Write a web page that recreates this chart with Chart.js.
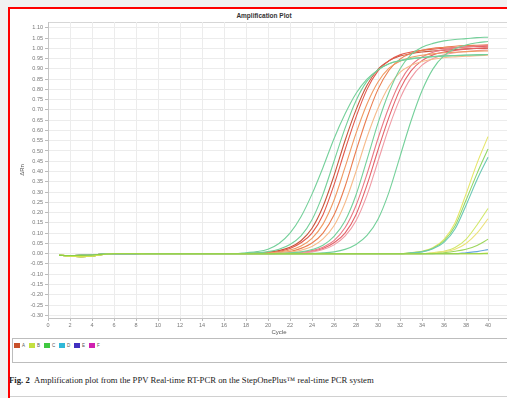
<!DOCTYPE html>
<html>
<head>
<meta charset="utf-8">
<script src="https://cdn.jsdelivr.net/npm/chart.js@4.4.1/dist/chart.umd.min.js"></script>
<style>
  html, body { margin: 0; padding: 0; }
  body { width: 507px; height: 398px; background: #f1f1f1; overflow: hidden; position: relative; font-family: "Liberation Sans", Arial, sans-serif; }
  #frame { position: absolute; left: 8px; top: 7px; width: 520px; height: 420px; border: 2px solid #f00; background: #fff; }
  #topline { position: absolute; left: 48px; top: 22px; width: 470px; height: 1px; background: #d6d6d6; }
  #title { position: absolute; left: 204px; top: 12px; width: 120px; text-align: center; font-size: 6.5px; font-weight: bold; color: #333; }
  #wrap { position: absolute; left: 0; top: 0; width: 520px; height: 336px; }
  #legend { position: absolute; left: 12px; top: 338px; width: 520px; height: 23px; border: 1px solid #bdbdbd; background: #fff; }
  .item { position: absolute; top: 4px; font-size: 4.5px; color: #555; line-height: 6px; }
  .item span { display: inline-block; width: 6px; height: 5px; vertical-align: middle; margin-right: 2px; }
  #caption { position: absolute; left: 9px; top: 375px; font-family: "Liberation Serif", "Times New Roman", serif; font-size: 8.7px; color: #222; white-space: nowrap; }
  #rule { position: absolute; left: 10px; top: 396px; width: 510px; height: 1px; background: #d0d0d0; }
</style>
</head>
<body>
<div id="frame"></div>
<div id="topline"></div>
<div id="title">Amplification Plot</div>
<div id="wrap"><canvas id="myChart"></canvas></div>
<div id="legend"></div>
<div id="caption"><b>Fig. 2</b>&nbsp;&nbsp;Amplification plot from the PPV Real-time RT-PCR on the StepOnePlus™ real-time PCR system</div>
<div id="rule"></div>
<script>
const cycles = [1, 2, 3, 4, 5, 6, 7, 8, 9, 10, 11, 12, 13, 14, 15, 16, 17, 18, 19, 20,
    21, 22, 23, 24, 25, 26, 27, 28, 29, 30, 31, 32, 33, 34, 35, 36, 37, 38, 39, 40];
const xTickValues = [0, 2, 4, 6, 8, 10, 12, 14, 16, 18, 20, 22, 24, 26, 28, 30, 32, 34, 36, 38, 40];
const yTickValues = [-0.30, -0.25, -0.20, -0.15, -0.10, -0.05, 0.00, 0.05, 0.10, 0.15, 0.20, 0.25, 0.30,
    0.35, 0.40, 0.45, 0.50, 0.55, 0.60, 0.65, 0.70, 0.75, 0.80, 0.85, 0.90, 0.95, 1.00, 1.05, 1.10];

// cycles 1-17, before any curve leaves the baseline
const baseA = [-0.008, -0.009, -0.008, -0.006, -0.002, 0, 0, 0, 0, 0, 0, 0, 0, 0, 0, 0, 0];
const baseB = [-0.006, -0.012, -0.014, -0.012, -0.004, 0.001, 0.001, 0.001, 0, 0, 0, 0, 0, 0, 0, 0, 0];

// cycles 18-40
const lateFlat1 = [0, 0, 0, 0, 0, 0, 0, 0, 0, 0, 0, 0, 0, 0, 0, 0, 0, 0, 0, 0, 0, 0, 0];
const lateFlat2 = [0, 0, 0, 0, 0, 0, 0, 0, 0, 0, 0, 0, 0, 0, 0, 0, 0, 0, 0, 0, 0, 0, 0.003];
const late7 = [0, 0, 0, 0, 0, 0, 0, 0, 0, 0, 0, 0, 0, 0, 0, 0, 0, 0, 0, 0, 0.005, 0.01, 0.02];
const late6 = [0, 0, 0, 0, 0, 0, 0, 0, 0, 0, 0, 0, 0, 0, 0, 0, 0, 0, 0.005, 0.012, 0.022, 0.04, 0.07];
const late5 = [0, 0, 0, 0, 0, 0, 0, 0, 0, 0, 0, 0, 0, 0, 0, 0, 0, 0.004, 0.01, 0.022, 0.05, 0.10, 0.17];
const late4 = [0, 0, 0, 0, 0, 0, 0, 0, 0, 0, 0, 0, 0, 0, 0, 0, 0, 0.005, 0.012, 0.03, 0.07, 0.14, 0.22];
const late3 = [0, 0, 0, 0, 0, 0, 0, 0, 0, 0, 0, 0, 0, 0, 0, 0.004, 0.009, 0.024, 0.055, 0.12, 0.235, 0.36, 0.47];
const late2 = [0, 0, 0, 0, 0, 0, 0, 0, 0, 0, 0, 0, 0, 0, 0, 0.004, 0.01, 0.027, 0.062, 0.135, 0.26, 0.39, 0.51];
const late1 = [0, 0, 0, 0, 0, 0, 0, 0, 0, 0, 0, 0, 0, 0, 0, 0.005, 0.012, 0.03, 0.07, 0.15, 0.29, 0.44, 0.57];

const green1 = [0.005, 0.01, 0.022, 0.05, 0.10, 0.18, 0.29, 0.42, 0.56, 0.68, 0.78, 0.85, 0.895, 0.925, 0.94, 0.95, 0.955, 0.96, 0.963, 0.965, 0.967, 0.968, 0.97];
const green2 = [0.002, 0.004, 0.010, 0.022, 0.045, 0.087, 0.165, 0.29, 0.45, 0.61, 0.745, 0.84, 0.895, 0.925, 0.94, 0.948, 0.955, 0.959, 0.962, 0.964, 0.966, 0.968, 0.97];
const green3 = [0, 0, 0, 0.002, 0.004, 0.009, 0.020, 0.041, 0.084, 0.159, 0.286, 0.458, 0.636, 0.786, 0.899, 0.969, 1.005, 1.024, 1.036, 1.043, 1.047, 1.052, 1.054];
const green4 = [0, 0, 0, 0, 0, 0, 0.002, 0.004, 0.009, 0.021, 0.045, 0.089, 0.168, 0.30, 0.473, 0.646, 0.793, 0.90, 0.964, 0.998, 1.016, 1.027, 1.033];
const red1 = [0.001, 0.003, 0.007, 0.015, 0.031, 0.063, 0.124, 0.23, 0.38, 0.55, 0.70, 0.82, 0.898, 0.939, 0.962, 0.974, 0.982, 0.987, 0.991, 0.994, 0.997, 0.999, 1.00];
const red2 = [0.001, 0.002, 0.005, 0.011, 0.025, 0.053, 0.10, 0.19, 0.335, 0.505, 0.665, 0.80, 0.89, 0.94, 0.968, 0.982, 0.99, 0.996, 1.0, 1.003, 1.006, 1.008, 1.01];
const red3 = [0, 0, 0, 0.001, 0.002, 0.005, 0.011, 0.025, 0.053, 0.10, 0.19, 0.335, 0.505, 0.665, 0.80, 0.89, 0.94, 0.968, 0.982, 0.99, 0.996, 1.0, 1.003];
const orange1 = [0, 0.001, 0.004, 0.008, 0.018, 0.038, 0.075, 0.144, 0.26, 0.42, 0.586, 0.729, 0.836, 0.903, 0.937, 0.956, 0.966, 0.973, 0.978, 0.981, 0.984, 0.986, 0.987];
const orange2 = [0, 0.001, 0.002, 0.005, 0.011, 0.026, 0.052, 0.10, 0.188, 0.326, 0.50, 0.663, 0.80, 0.893, 0.947, 0.976, 0.99, 1.0, 1.005, 1.01, 1.013, 1.015, 1.017];
const orange3 = [0, 0, 0.001, 0.003, 0.008, 0.017, 0.035, 0.072, 0.136, 0.247, 0.40, 0.567, 0.708, 0.815, 0.883, 0.917, 0.936, 0.947, 0.954, 0.958, 0.961, 0.964, 0.966];
const pink1 = [0, 0, 0, 0.001, 0.003, 0.007, 0.015, 0.032, 0.064, 0.126, 0.235, 0.388, 0.561, 0.714, 0.836, 0.916, 0.958, 0.981, 0.993, 1.002, 1.007, 1.011, 1.014];
const pink2 = [0, 0, 0, 0.001, 0.002, 0.004, 0.009, 0.020, 0.043, 0.085, 0.16, 0.285, 0.45, 0.615, 0.755, 0.856, 0.918, 0.95, 0.968, 0.978, 0.984, 0.989, 0.992];

// drawing order: late wells first, reds last so they sit on top of the baseline
const wells = [
    ['lateFlat1', lateFlat1, baseA, '#8ccf46'],
    ['lateFlat2', lateFlat2, baseB, '#d6e44e'],
    ['late7', late7, baseA, '#6aa8dc'],
    ['late6', late6, baseB, '#9cd65a'],
    ['late5', late5, baseB, '#ece27a'],
    ['late4', late4, baseA, '#d2e86a'],
    ['late3', late3, baseA, '#6cc8b4'],
    ['late2', late2, baseB, '#90d868'],
    ['late1', late1, baseB, '#e6e66a'],
    ['green1', green1, baseA, '#74d09a'],
    ['green4', green4, baseA, '#74d09a'],
    ['green3', green3, baseB, '#74d09a'],
    ['green2', green2, baseA, '#74d09a'],
    ['orange3', orange3, baseB, '#f6bc8c'],
    ['orange1', orange1, baseA, '#f09a62'],
    ['pink2', pink2, baseA, '#f09aa4'],
    ['pink1', pink1, baseB, '#ea7a86'],
    ['orange2', orange2, baseA, '#ea7e50'],
    ['red3', red3, baseB, '#e4626a'],
    ['red2', red2, baseA, '#e25a4c'],
    ['red1', red1, baseA, '#c8543c']
];

const legendLabels = ['A', 'B', 'C', 'D', 'E', 'F'];
const legendColors = ['#c8502a', '#c4e040', '#40c840', '#30b8d8', '#4030c0', '#d020b0'];

function buildLegend() {
    const box = document.getElementById('legend');
    legendLabels.forEach((label, i) => {
        const item = document.createElement('div');
        item.className = 'item';
        item.style.left = (1 + i * 15) + 'px';
        item.innerHTML = '<span style="background:' + legendColors[i] + '"></span>' + label;
        box.appendChild(item);
    });
}

function makeDatasets() {
    return wells.map(w => {
        const values = w[2].concat(w[1]);
        return {
            label: w[0],
            data: cycles.map((c, i) => ({ x: c, y: values[i] })),
            borderColor: w[3],
            borderWidth: 1.1,
            pointRadius: 0,
            fill: false,
            cubicInterpolationMode: 'monotone'
        };
    });
}

function creationChart() {
    const ctx = document.getElementById('myChart').getContext('2d');
    new Chart(ctx, {
        type: 'line',
        data: { datasets: makeDatasets() },
        options: {
            responsive: true,
            maintainAspectRatio: false,
            animation: false,
            layout: { padding: { left: 19, top: 22, right: 10, bottom: 0 } },
            plugins: { legend: { display: false }, tooltip: { enabled: false }, title: { display: false } },
            scales: {
                x: {
                    type: 'linear',
                    min: 0,
                    max: 42,
                    afterBuildTicks: scale => { scale.ticks = xTickValues.map(v => ({ value: v })); },
                    afterFit: scale => { scale.height = 18; },
                    ticks: { font: { size: 5.5, family: 'Liberation Sans' }, color: '#777', padding: 1, maxRotation: 0, autoSkip: false },
                    grid: { color: '#ececec', tickLength: 3, tickColor: '#bbb' },
                    border: { color: '#c4c4c4' },
                    title: { display: true, text: 'Cycle', font: { size: 6, family: 'Liberation Sans' }, color: '#555', padding: { top: 0, bottom: 0 } }
                },
                y: {
                    min: -0.313,
                    max: 1.128,
                    afterBuildTicks: scale => { scale.ticks = yTickValues.map(v => ({ value: v })); },
                    afterFit: scale => { scale.width = 29; },
                    ticks: { font: { size: 5.5, family: 'Liberation Sans' }, color: '#777', padding: 2, autoSkip: false,
                        callback: v => v.toFixed(2) },
                    grid: { color: '#ececec', tickLength: 3, tickColor: '#bbb' },
                    border: { color: '#c4c4c4' },
                    title: { display: true, text: 'ΔRn', font: { size: 6, family: 'Liberation Sans' }, color: '#555', padding: { top: 0, bottom: 2 } }
                }
            }
        }
    });
}

buildLegend();
creationChart();
</script>
</body>
</html>
